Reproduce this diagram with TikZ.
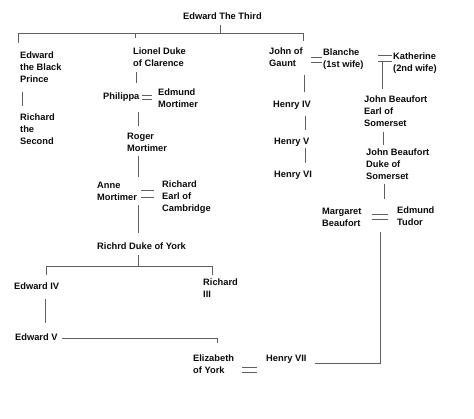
\documentclass[tikz,border=0pt]{standalone}
\usepackage{fontspec}
\setmainfont{Liberation Sans}
\definecolor{branch}{RGB}{95,95,95}
\definecolor{ink}{RGB}{10,10,10}
\usepackage{tikz}
\usetikzlibrary{calc}

\begin{document}
\begin{tikzpicture}[x=1pt, y=-1pt,
    person/.style={anchor=north west, align=left, inner sep=0pt, text=ink,
      font=\fontsize{9.3}{12}\selectfont\bfseries,
      execute at begin node=\strut, execute at end node=\strut},
    tree/.style={draw=branch, line width=0.9pt}]
  \useasboundingbox (0,0) rectangle (474,418);

  % people
  \node[person] (e3) at (183,10.6) {Edward The Third};
  \node[person] (ebp) at (20,51.6) {Edward\\the Black\\Prince};
  \node[person] (r2) at (20,113.6) {Richard\\the\\Second};
  \node[person] (lionel) at (133,47.6) {Lionel Duke\\of Clarence};
  \node[person] (phil) at (103,90.6) {Philippa};
  \node[person] (edmort) at (158,88.6) {Edmund\\Mortimer};
  \node[person] (roger) at (127,132.6) {Roger\\Mortimer};
  \node[person] (anne) at (97,181.6) {Anne\\Mortimer};
  \node[person] (rcam) at (162,180.6) {Richard\\Earl of\\Cambridge};
  \node[person] (york) at (97,240.6) {Richrd Duke of York};
  \node[person] (e4) at (14,280.6) {Edward IV};
  \node[person] (r3) at (203,278.6) {Richard\\III};
  \node[person] (e5) at (15,331.6) {Edward V};
  \node[person] (eliz) at (193,354.6) {Elizabeth\\of York};
  \node[person] (h7) at (266,352.6) {Henry VII};
  \node[person] (gaunt) at (269,47.6) {John of\\Gaunt};
  \node[person] (blanche) at (323,48.6) {Blanche\\(1st wife)};
  \node[person] (kath) at (393,52.6) {Katherine\\(2nd wife)};
  \node[person] (jbe) at (364,95.6) {John Beaufort\\Earl of\\Somerset};
  \node[person] (jbd) at (366,148.6) {John Beaufort\\Duke of\\Somerset};
  \node[person] (marg) at (322,207.6) {Margaret\\Beaufort};
  \node[person] (etud) at (397,206.6) {Edmund\\Tudor};
  \node[person] (h4) at (273,98.6) {Henry IV};
  \node[person] (h5) at (274,135.6) {Henry V};
  \node[person] (h6) at (274,168.6) {Henry VI};

  % sons of Edward
  \draw[tree] ($(e3.south west)+(37,2.4)$) -- ++(0,8);
  \draw[tree] ($(ebp.north west)+(-2,-8.6)$) -- ++(0,-10) -| ($(gaunt.north west)+(34,-6.6)$);
  \draw[tree] ($(lionel.north west)+(2,-9.6)$) -- ++(0,-5);
  \draw[tree] ($(ebp.south west)+(2,5.4)$) -- ($(r2.north west)+(2,-7.6)$);

  % line of Clarence
  \draw[tree] ($(lionel.south west)+(3,1.4)$) -- ($(phil.north west)+(33,-7.6)$);
  \draw[tree] ($(phil.north west)+(39,5.1)$) -- ($(edmort.north west)+(-6,7.1)$)
              ($(phil.north west)+(39,8.7)$) -- ($(edmort.north west)+(-6,10.7)$);
  \draw[tree] ($(phil.south west)+(35,9.4)$) -- ($(roger.north west)+(11,-6.6)$);
  \draw[tree] ($(roger.south west)+(11,1.4)$) -- ($(anne.north west)+(41,-4.6)$);
  \draw[tree] ($(anne.north west)+(44,8.4)$) -- ($(rcam.north west)+(-8,9.4)$)
              ($(anne.north west)+(44,15.4)$) -- ($(rcam.north west)+(-8,16.4)$);
  \draw[tree] ($(anne.south west)+(41,1.4)$) -- ($(york.north west)+(41,-7.6)$);
  \draw[tree] ($(york.south west)+(41,2.4)$) -- ++(0,11);
  \draw[tree] ($(e4.north west)+(32,-5.6)$) -- ++(0,-9) -| ($(r3.north west)+(9,-3.6)$);
  \draw[tree] ($(e4.south west)+(31,6.4)$) -- ($(e5.north west)+(30,-8.6)$);
  \draw[tree] ($(e5.north west)+(47,6.4)$) -| ($(eliz.north west)+(24,-11.6)$);
  \draw[tree] ($(eliz.north west)+(49,12.4)$) -- ($(h7.north west)+(-9,14.4)$)
              ($(eliz.north west)+(49,17.4)$) -- ($(h7.north west)+(-9,19.4)$);

  % line of Lancaster
  \draw[tree] ($(gaunt.north west)+(42,9.4)$) -- ($(blanche.north west)+(-1,8.4)$)
              ($(gaunt.north west)+(42,14.4)$) -- ($(blanche.north west)+(-1,13.4)$);
  \draw[tree] ($(blanche.north west)+(55,6.4)$) -- ($(kath.north west)+(-1,2.4)$)
              ($(blanche.north west)+(55,12.4)$) -- ($(kath.north west)+(-1,8.4)$);
  \draw[tree] ($(gaunt.south west)+(35,4.4)$) -- ($(h4.north west)+(31,-6.6)$);
  \draw[tree] ($(h4.south west)+(32,5.4)$) -- ($(h5.north west)+(31,-5.6)$);
  \draw[tree] ($(h5.south west)+(31,0.4)$) -- ($(h6.north west)+(31,-5.6)$);
  \draw[tree] ($(kath.north west)+(-11,9.4)$) -- ($(jbe.north west)+(18,-6.6)$);
  \draw[tree] ($(jbe.south west)+(19,1.4)$) -- ($(jbd.north west)+(17,-3.6)$);
  \draw[tree] ($(jbd.south west)+(18,0.4)$) -- ($(marg.north west)+(62,-8.6)$);
  \draw[tree] ($(marg.north west)+(50,6.4)$) -- ($(etud.north west)+(-9,7.4)$)
              ($(marg.north west)+(50,11.4)$) -- ($(etud.north west)+(-9,12.4)$);
  \draw[tree] ($(h7.north west)+(49,10.4)$) -| ($(marg.north west)+(58,24.4)$);
\end{tikzpicture}
\end{document}
